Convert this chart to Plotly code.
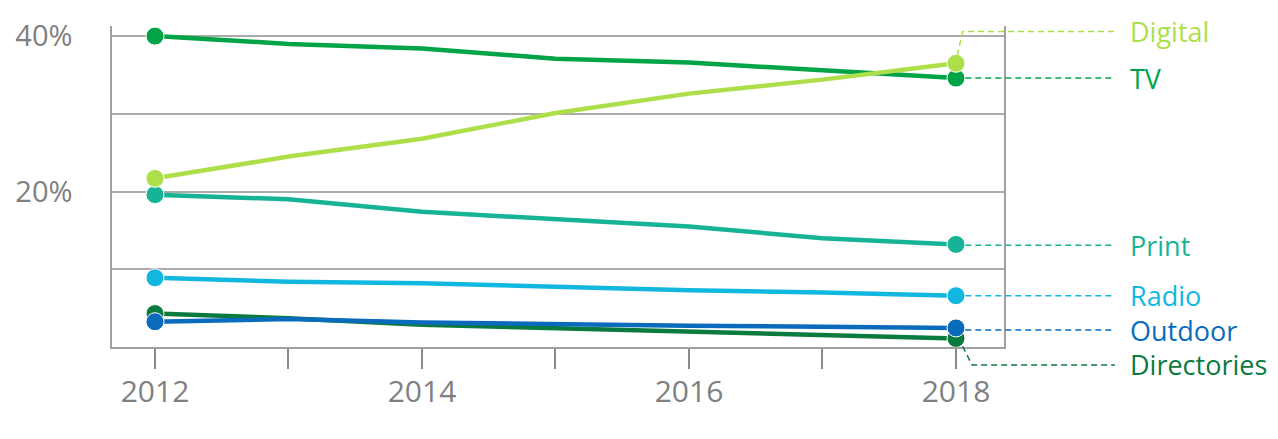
import plotly.graph_objects as go

years = [2012, 2013, 2014, 2015, 2016, 2017, 2018]
year_labels = ["2012", "", "2014", "", "2016", "", "2018"]

series_names = ["Print", "Radio", "Directories", "Outdoor", "TV", "Digital"]
print_vals = [19.6, 19.0, 17.4, 16.5, 15.5, 14.0, 13.2]
radio_vals = [8.9, 8.4, 8.2, 7.7, 7.3, 7.0, 6.6]
directories_vals = [4.3, 3.7, 2.85, 2.4, 1.95, 1.55, 1.1]
outdoor_vals = [3.25, 3.6, 3.15, 2.9, 2.75, 2.6, 2.45]
tv_vals = [40.0, 39.0, 38.4, 37.1, 36.6, 35.6, 34.6]
digital_vals = [21.7, 24.5, 26.8, 30.1, 32.6, 34.4, 36.5]

y_tickvals = [10, 20, 30, 40]
y_ticktext = ["", "20%", "", "40%"]

values = {
    "Print": print_vals,
    "Radio": radio_vals,
    "Directories": directories_vals,
    "Outdoor": outdoor_vals,
    "TV": tv_vals,
    "Digital": digital_vals,
}
colors = {
    "Print": "#17b396",
    "Radio": "#12b7e0",
    "Directories": "#0b7a3e",
    "Outdoor": "#0a6bbd",
    "TV": "#00a346",
    "Digital": "#addf4b",
}
# label layout (y position of the label / leader line, in axis units)
label_y = {
    "Digital": 40.6,
    "TV": 34.6,
    "Print": 13.1,
    "Radio": 6.6,
    "Outdoor": 2.2,
    "Directories": -2.3,
}

# geometry (page has an 8px body margin, compensated here)
PX_PER_YEAR = 133.5
PX_PER_UNIT = 7.775
X0 = 2011.678
Y_MAX = 41.3
M_L, M_T, M_B = 104, 18, 0
FIG_W, FIG_H = 1278, 439
plot_w = FIG_W - M_L
plot_h = FIG_H - M_T - M_B
main_w = 892
main_h = 321

marker_sizes = [18 if i in (0, len(years) - 1) else 0 for i in range(len(years))]

fig = go.Figure()

for name in series_names:
    fig.add_trace(go.Scatter(
        x=years, y=values[name], mode="lines+markers", name=name,
        line=dict(color=colors[name], width=4.5),
        marker=dict(color=colors[name], size=marker_sizes, opacity=1),
        cliponaxis=False, showlegend=False, hoverinfo="skip",
        xaxis="x", yaxis="y",
    ))

# leader lines + labels on an overlay subplot covering the right margin
lead_start = years[-1] + 0.07
lead_end = 2019.19
label_x = 2019.29
for name in series_names:
    last = values[name][-1]
    ly = label_y[name]
    if name == "Digital":
        xs = [years[-1] + 0.01, years[-1] + 0.05, lead_end]
        ys = [last + 1.0, ly, ly]
    elif name == "Directories":
        xs = [years[-1] + 0.05, years[-1] + 0.12, lead_end]
        ys = [last - 1.0, ly, ly]
    else:
        xs = [lead_start, lead_end]
        ys = [ly, ly]
    fig.add_trace(go.Scatter(
        x=xs, y=ys, mode="lines",
        line=dict(color=colors[name], width=1.5, dash="6px,4px"),
        showlegend=False, hoverinfo="skip", xaxis="x2", yaxis="y2",
    ))
    fig.add_annotation(
        x=label_x, y=ly, xref="x2", yref="y2", text=name, showarrow=False,
        xanchor="left", yanchor="middle",
        font=dict(family="Open Sans", size=27, color=colors[name]),
    )

fig.update_layout(
    width=FIG_W, height=FIG_H,
    margin=dict(l=M_L, r=0, t=M_T, b=M_B, autoexpand=False),
    paper_bgcolor="white", plot_bgcolor="rgba(0,0,0,0)",
    font=dict(family="Open Sans", color="#808080"),
    xaxis=dict(
        domain=[0, main_w / plot_w],
        range=[X0, X0 + main_w / PX_PER_YEAR],
        tickvals=years, ticktext=year_labels,
        ticks="outside", ticklen=20, tickwidth=2, tickcolor="#8a8a8a",
        showline=True, linecolor="#a0a0a0", linewidth=1.5,
        showgrid=False, zeroline=False,
        tickfont=dict(family="Open Sans", size=30, color="#808080"),
        ticklabelstandoff=-3,
        anchor="y",
    ),
    yaxis=dict(
        domain=[1 - main_h / plot_h, 1],
        range=[0, Y_MAX],
        tickvals=y_tickvals, ticktext=y_ticktext,
        showgrid=True, gridcolor="#ababab", gridwidth=1.5,
        showline=True, linecolor="#a0a0a0", linewidth=1.5, mirror=True,
        zeroline=False, ticks="",
        tickfont=dict(family="Open Sans", size=29, color="#808080"),
        ticklabelstandoff=32,
        anchor="x",
    ),
    xaxis2=dict(
        domain=[0, 1], range=[X0, X0 + plot_w / PX_PER_YEAR],
        visible=False, anchor="y2",
    ),
    yaxis2=dict(
        domain=[0, 1], range=[Y_MAX - plot_h / PX_PER_UNIT, Y_MAX],
        visible=False, anchor="x2",
    ),
)

fig.write_html("out.html")
